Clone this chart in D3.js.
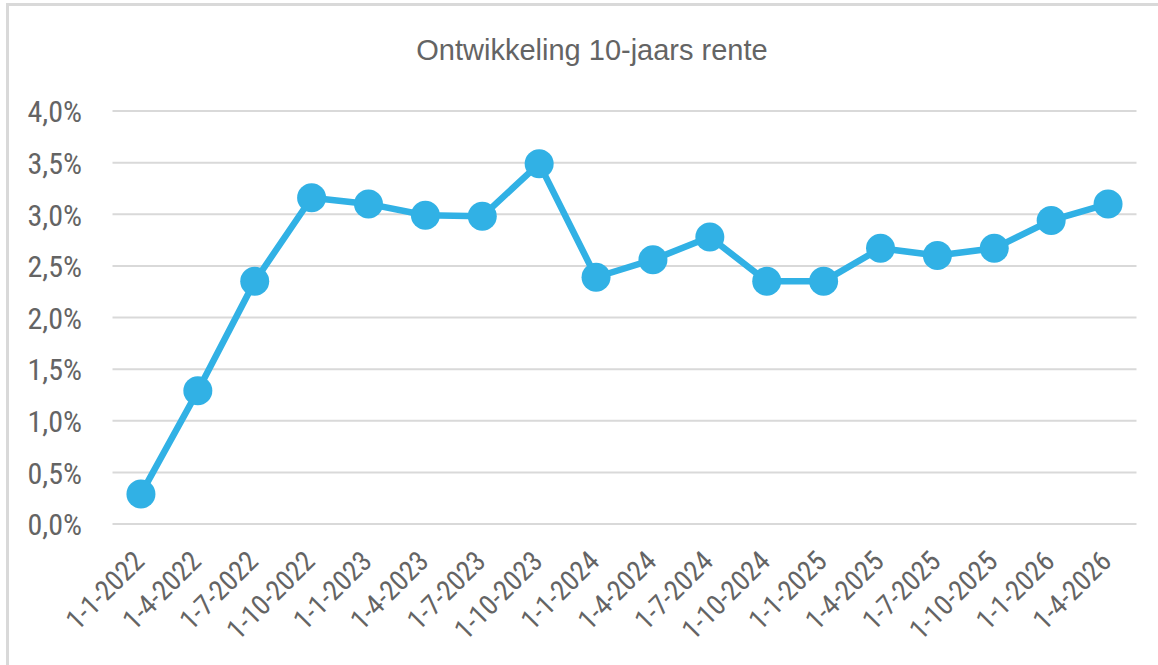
<!DOCTYPE html>
<html>
<head>
<meta charset="utf-8">
<script src="https://cdn.jsdelivr.net/npm/d3@7"></script>
<style>
  html, body { margin: 0; padding: 0; background: #fff; }
  svg { display: block; }
</style>
</head>
<body>
<svg id="chart" width="1158" height="665"></svg>
<script>
const title = "Ontwikkeling 10-jaars rente";
const categories = ["1-1-2022","1-4-2022","1-7-2022","1-10-2022","1-1-2023","1-4-2023","1-7-2023","1-10-2023","1-1-2024","1-4-2024","1-7-2024","1-10-2024","1-1-2025","1-4-2025","1-7-2025","1-10-2025","1-1-2026","1-4-2026"];
const rates = [0.29, 1.29, 2.35, 3.16, 3.10, 2.99, 2.98, 3.49, 2.39, 2.56, 2.78, 2.35, 2.35, 2.67, 2.60, 2.67, 2.94, 3.10];
const yTicks = [0, 0.5, 1.0, 1.5, 2.0, 2.5, 3.0, 3.5, 4.0];

(function () {
const svg = d3.select("#chart");
const W = 1158, H = 665;
const pL = 112.5, pR = 1136.5, pT = 111, pB = 524;
const narrow = "'Liberation Sans Narrow', 'Arial Narrow', 'Roboto Condensed', sans-serif";
const textCol = "#646464";

// frame (top and left edges visible)
svg.append("line").attr("x1", 7.5).attr("x2", W).attr("y1", 4.5).attr("y2", 4.5)
  .attr("stroke", "#d9d9d9").attr("stroke-width", 3);
svg.append("line").attr("x1", 7.5).attr("x2", 7.5).attr("y1", 3).attr("y2", H)
  .attr("stroke", "#d9d9d9").attr("stroke-width", 3);

const x = d3.scaleBand().domain(categories).range([pL, pR]).paddingInner(0).paddingOuter(0);
const y = d3.scaleLinear().domain([0, 4]).range([pB, pT]);

// gridlines
svg.append("g").selectAll("line").data(yTicks).join("line")
  .attr("x1", pL).attr("x2", pR)
  .attr("y1", d => y(d)).attr("y2", d => y(d))
  .attr("stroke", "#d9d9d9").attr("stroke-width", 2);

// y axis labels
const fmt = d => d.toFixed(1).replace(".", ",") + "%";
const yAxis = d3.axisLeft(y).tickValues(yTicks).tickFormat(fmt).tickSize(0).tickPadding(0);
const gy = svg.append("g").attr("transform", "translate(82,0)").call(yAxis);
gy.select(".domain").remove();
gy.selectAll("text")
  .attr("fill", textCol)
  .style("font-family", narrow)
  .style("font-size", "30px")
  .attr("dy", "0.36em");

// x axis labels
const xAxis = d3.axisBottom(x).tickSize(0).tickPadding(0);
const gx = svg.append("g").attr("transform", `translate(0,${pB})`).call(xAxis);
gx.select(".domain").remove();
gx.selectAll("text")
  .attr("fill", textCol)
  .style("font-family", narrow)
  .style("font-size", "28px")
  .attr("text-anchor", "end")
  .attr("y", 0).attr("dy", 0)
  .attr("transform", "translate(5,39) rotate(-45)");

// line
const cx = (d, i) => x(categories[i]) + x.bandwidth() / 2;
const line = d3.line().x((d, i) => cx(d, i)).y(d => y(d));
svg.append("path").datum(rates)
  .attr("d", line)
  .attr("fill", "none")
  .attr("stroke", "#31b1e5")
  .attr("stroke-width", 6.5)
  .attr("stroke-linejoin", "round");

svg.append("g").selectAll("circle").data(rates).join("circle")
  .attr("cx", (d, i) => cx(d, i))
  .attr("cy", d => y(d))
  .attr("r", 14.5)
  .attr("fill", "#31b1e5");

// title
svg.append("text").attr("x", 592).attr("y", 60)
  .attr("text-anchor", "middle")
  .attr("fill", textCol)
  .style("font-family", "'Liberation Sans', Arial, sans-serif")
  .style("font-size", "29px")
  .text(title);
})();
</script>
</body>
</html>
